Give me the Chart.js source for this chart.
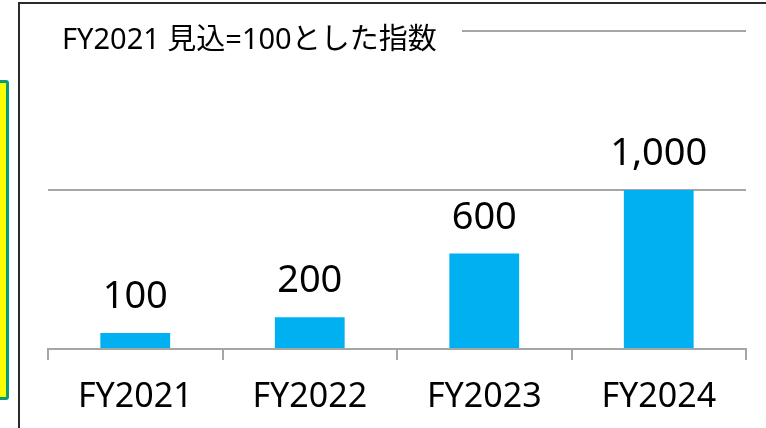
<!DOCTYPE html>
<html>
<head>
<meta charset="utf-8">
<script src="https://cdn.jsdelivr.net/npm/chart.js@4"></script>
<style>
  body { margin: 0; background: #fff; overflow: hidden; }
  #wrap { position: relative; width: 766px; height: 428px; overflow: hidden; }
  #frame { position: absolute; left: 18px; top: 2px; width: 800px; height: 500px; border: 2px solid #2b2b2b; }
  #note { position: absolute; left: -20px; top: 80px; width: 23px; height: 314px; background: #ffff00; border: 3px solid #0b9a76; border-radius: 3px; }
  canvas { position: absolute; left: 0; top: 0; }
</style>
</head>
<body>
<div id="wrap">
  <div id="note"></div>
  <div id="frame"></div>
  <canvas id="idxChart" width="766" height="428"></canvas>
</div>
<script>
// данные
const years = ['FY2021', 'FY2022', 'FY2023', 'FY2024'];
const indexValues = [100, 200, 600, 1000];
const gridTicks = [0, 1000, 2000];
const chartTitle = 'FY2021 見込=100とした指数';

const FONT = '"Noto Sans", "Noto Sans CJK JP", sans-serif';
const GRID = '#a6a6a6';

// подписи над столбиками
const valueLabels = {
    id: 'valueLabels',
    afterDatasetsDraw(chart) {
        const ctx = chart.ctx;
        const meta = chart.getDatasetMeta(0);
        ctx.save();
        ctx.font = '38px ' + FONT;
        ctx.fillStyle = '#000';
        ctx.textAlign = 'center';
        ctx.textBaseline = 'alphabetic';
        meta.data.forEach((bar, i) => {
            ctx.fillText(indexValues[i].toLocaleString('en-US'), bar.x, bar.y - 25);
        });
        ctx.restore();
    }
};

// заголовок поверх верхней линии сетки
const overTitle = {
    id: 'overTitle',
    afterDraw(chart) {
        const ctx = chart.ctx;
        ctx.save();
        ctx.fillStyle = '#fff';
        ctx.fillRect(40, 12, 422, 44);
        ctx.font = '29px ' + FONT;
        ctx.fillStyle = '#000';
        ctx.textAlign = 'left';
        ctx.textBaseline = 'alphabetic';
        ctx.fillText(chartTitle, 62, 48.5);
        ctx.restore();
    }
};

new Chart(document.getElementById('idxChart'), {
    type: 'bar',
    data: {
        labels: years,
        datasets: [{
            data: indexValues,
            backgroundColor: '#00b0f0',
            borderWidth: 0,
            barPercentage: 0.8,
            categoryPercentage: 0.5
        }]
    },
    options: {
        responsive: false,
        animation: false,
        layout: { padding: { left: 48, right: 20, top: 31, bottom: 0 } },
        plugins: {
            legend: { display: false },
            tooltip: { enabled: false },
            title: { display: false }
        },
        scales: {
            x: {
                afterFit(scale) { scale.height = 79; },
                grid: { drawOnChartArea: false, drawTicks: true, tickLength: 11, color: GRID, lineWidth: 2 },
                border: { display: true, color: GRID, width: 2 },
                ticks: { font: { family: FONT, size: 34 }, color: '#000', padding: 17 }
            },
            y: {
                min: gridTicks[0],
                max: gridTicks[gridTicks.length - 1],
                afterBuildTicks(scale) { scale.ticks = gridTicks.map(v => ({ value: v })); },
                ticks: { display: false },
                grid: { color: GRID, lineWidth: 2, drawTicks: false },
                border: { display: false }
            }
        }
    },
    plugins: [valueLabels, overTitle]
});
</script>
</body>
</html>
